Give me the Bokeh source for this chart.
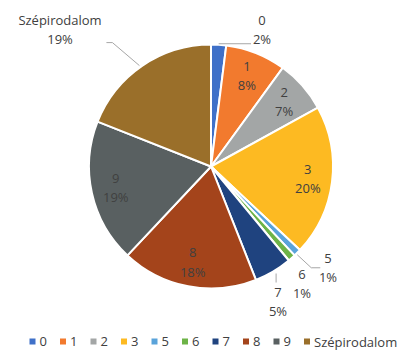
import math
from bokeh.plotting import figure
from bokeh.models import Range1d, ColumnDataSource
from bokeh.core.properties import value
from bokeh.embed import file_html
from bokeh.resources import INLINE

# ---- data ----
categories = ["0", "1", "2", "3", "5", "6", "7", "8", "9", "Szépirodalom"]
percents = [2, 8, 7, 20, 1, 1, 5, 18, 19, 19]
colors = ["#3F70C8", "#F27A2E", "#A3A6A6", "#FDBA22", "#5AA3DA", "#6DB347",
          "#1F437F", "#A4441B", "#596061", "#9A6F2A"]

# ---- layout ----
W, H = 399, 350
CX, CY = 210.5, 350 - 166
R = 122
FONT = value("Open Sans")
TXT = "#404040"
LEAD = "#A6A6A6"
inside = {"1", "2", "3", "8", "9"}
# outside label centres, relative to pie centre (pixels, y up)
outside_pos = {"0": (51, 137), "5": (117, -101), "6": (91, -117),
               "7": (67, -135), "Szépirodalom": (-151, 137)}

p = figure(width=W, height=H, x_range=Range1d(0, W), y_range=Range1d(0, H),
           output_backend="svg", toolbar_location=None, min_border=0)
p.axis.visible = False
p.grid.visible = False
p.outline_line_color = None
p.background_fill_color = "white"

total = sum(percents)
starts, ends, mids = [], [], []
cum = 0.0
for v in percents:
    a0 = math.pi / 2 - 2 * math.pi * cum / total
    a1 = math.pi / 2 - 2 * math.pi * (cum + v) / total
    starts.append(a1)
    ends.append(a0)
    mids.append((a0 + a1) / 2)
    cum += v

src = ColumnDataSource(dict(start=starts, end=ends, color=colors))
p.wedge(x=CX, y=CY, radius=R, start_angle="start", end_angle="end",
        direction="anticlock", fill_color="color", line_color="white",
        line_width=2, source=src)

# labels
lx, ly, lt = [], [], []
for cat, v, m in zip(categories, percents, mids):
    if cat in inside:
        x = CX + 0.8 * R * math.cos(m)
        y = CY + 0.8 * R * math.sin(m)
    else:
        dx, dy = outside_pos[cat]
        x, y = CX + dx, CY + dy
    lx += [x, x]
    ly += [y + 9.5, y - 9.5]
    lt += [cat, f"{v}%"]
p.text(x=lx, y=ly, text=lt, text_font=FONT, text_font_size="13px",
       text_color=TXT, text_align="center", text_baseline="middle")

# leader lines
def edge(i, r=R):
    return CX + r * math.cos(mids[i]), CY + r * math.sin(mids[i])

ex, ey = edge(0)
p.line([ex, CX + 40], [ey + 1, ey + 1], line_color=LEAD, line_width=1)
ex, ey = edge(4)
p.line([ex, ex + 14, ex + 23], [ey - 2, ey - 15, ey - 15], line_color=LEAD, line_width=1)
ex, ey = edge(6)
p.line([ex + 3, ex + 3], [ey - 2, ey - 11], line_color=LEAD, line_width=1)
ex, ey = edge(9)
p.line([ex - 3, ex - 30, ex - 36], [ey, ey + 23, ey + 23], line_color=LEAD, line_width=1)

# legend
leg_y = 350 - 341
mx = [32 + 30.5 * i for i in range(len(categories))]
p.scatter(x=mx, y=[leg_y] * len(mx), marker="square", size=6,
          fill_color=colors, line_color=None)
p.text(x=[x + 7 for x in mx], y=[leg_y] * len(mx), text=categories,
       text_font=FONT, text_font_size="13px", text_color=TXT,
       text_align="left", text_baseline="middle")

open("out.html", "w").write(file_html(p, INLINE))
